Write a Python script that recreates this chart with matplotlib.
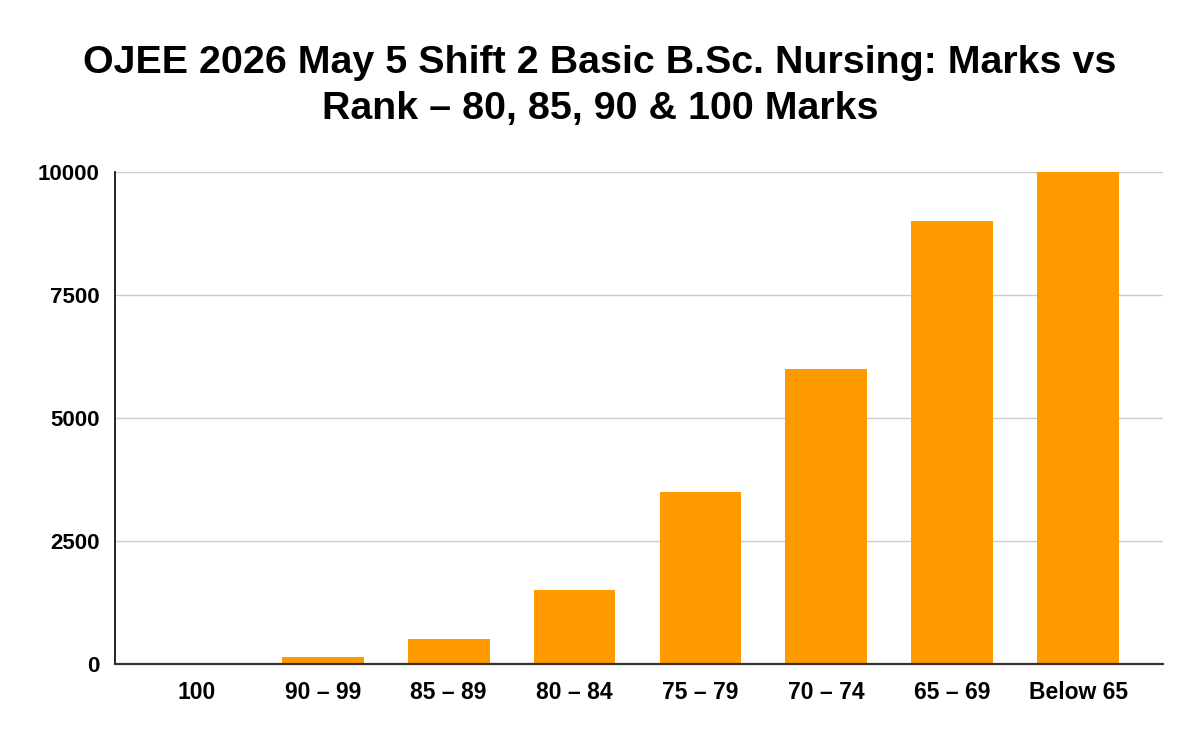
import matplotlib
matplotlib.use("Agg")
import matplotlib.pyplot as plt

# dados
categorias = ["100", "90 – 99", "85 – 89", "80 – 84", "75 – 79", "70 – 74", "65 – 69", "Below 65"]
ranks = [1, 150, 500, 1500, 3500, 6000, 9000, 10000]
yticks = [0, 2500, 5000, 7500, 10000]

plt.rcParams['font.family'] = ['Liberation Sans', 'DejaVu Sans']

fig = plt.figure(figsize=(12, 7.42), dpi=100)
ax = fig.add_axes([0.0958, 0.105, 0.873, 0.663])

x = range(len(categorias))
ax.bar(x, ranks, width=0.65, color="#FF9900", zorder=3)

ax.set_xlim(-0.65, len(categorias) - 0.33)
ax.set_ylim(0, 10000)
ax.set_yticks(yticks)
ax.set_yticklabels([str(v) for v in yticks], fontsize=16, fontweight="bold")
ax.set_xticks(list(x))
ax.set_xticklabels(categorias, fontsize=16.5, fontweight="bold")
ax.tick_params(axis="both", length=0)
ax.tick_params(axis="y", pad=11)
ax.tick_params(axis="x", pad=12)

ax.grid(axis="y", color="#cccccc", linewidth=1, zorder=0)
for s in ["top", "right"]:
    ax.spines[s].set_visible(False)
ax.spines["left"].set_color("black")
ax.spines["left"].set_linewidth(1.2)
ax.spines["bottom"].set_color("#333333")
ax.spines["bottom"].set_linewidth(1.6)
ax.spines["bottom"].set_zorder(4)

fig.suptitle("OJEE 2026 May 5 Shift 2 Basic B.Sc. Nursing: Marks vs\nRank – 80, 85, 90 & 100 Marks",
             fontsize=28.4, fontweight="bold", y=0.94, linespacing=1.38)

fig.savefig("out.png", dpi=100)
